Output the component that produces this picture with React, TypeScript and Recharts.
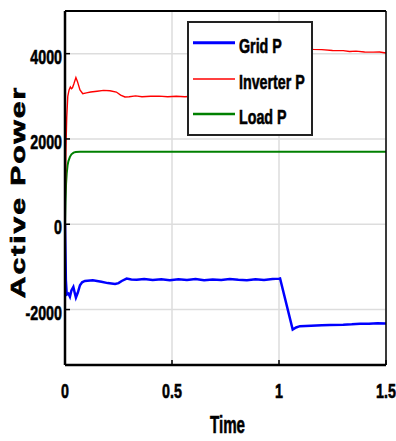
import React from 'react';
import { LineChart, Line, XAxis, YAxis, CartesianGrid, Legend } from 'recharts';

// Simulated active power traces (W) against time (s)
const gridTime = [0, 0.004, 0.008, 0.016, 0.023, 0.03, 0.039, 0.045, 0.051, 0.06, 0.07, 0.08, 0.093, 0.13, 0.17, 0.2, 0.234, 0.25, 0.265, 0.288, 0.31, 0.335, 0.37, 0.41, 0.45, 0.49, 0.53, 0.57, 0.61, 0.65, 0.69, 0.73, 0.77, 0.81, 0.85, 0.89, 0.93, 0.97, 1.0, 1.005, 1.064, 1.08, 1.098, 1.15, 1.2, 1.238, 1.3, 1.34, 1.379, 1.42, 1.46, 1.5];
const gridP = [0, -1300, -1650, -1625, -1700, -1550, -1470, -1600, -1720, -1600, -1430, -1360, -1330, -1312, -1350, -1380, -1400, -1380, -1330, -1273, -1295, -1300, -1285, -1305, -1290, -1310, -1290, -1305, -1285, -1310, -1295, -1305, -1285, -1300, -1310, -1290, -1305, -1285, -1275, -1270, -2470, -2420, -2390, -2380, -2370, -2360, -2355, -2345, -2330, -2335, -2320, -2325];

const inverterTime = [0, 0.004, 0.008, 0.013, 0.019, 0.025, 0.03, 0.035, 0.042, 0.051, 0.058, 0.07, 0.083, 0.1, 0.12, 0.15, 0.18, 0.21, 0.24, 0.26, 0.28, 0.3, 0.33, 0.36, 0.4, 0.44, 0.48, 0.52, 0.56, 0.6, 0.8, 1.0, 1.04, 1.08, 1.16, 1.2, 1.25, 1.3, 1.33, 1.36, 1.4, 1.44, 1.47, 1.5];
const inverterP = [0, 1700, 2500, 3000, 3150, 3220, 3180, 3200, 3300, 3440, 3350, 3150, 3060, 3080, 3100, 3120, 3140, 3130, 3100, 3030, 2985, 2990, 3010, 2990, 3000, 3005, 2990, 3000, 2990, 3000, 3000, 3000, 4200, 4170, 4100, 4095, 4075, 4070, 4050, 4060, 4040, 4035, 4040, 4015];

const loadTime = [0, 0.002, 0.005, 0.008, 0.012, 0.016, 0.023, 0.03, 0.04, 0.05, 0.07, 0.1, 0.5, 1.0, 1.5];
const loadP = [0, 500, 950, 1190, 1380, 1480, 1580, 1640, 1680, 1695, 1700, 1700, 1700, 1700, 1700];

const timeTicks = [0, 0.5, 1, 1.5];
const powerTicks = [-2000, 0, 2000, 4000];
const powerDomain = [-3300, 5000];

const seriesNames = ['Grid P', 'Inverter P', 'Load P'];
const seriesColors = ['#0000ff', '#ff0000', '#008000'];
const seriesWidths = [2.5, 1.4, 2];
const legendWidths = [3, 1.6, 2.4];

const FONT = '"Liberation Sans", Arial, sans-serif';
// heavier strokes on the glyphs to get the chunky bold look
const textStyle = { fontFamily: FONT, fontWeight: 'bold', fill: '#000', stroke: '#000', strokeWidth: 0.6 } as const;

const toPoints = (t: number[], p: number[]) => t.map((time, i) => ({ time, p: p[i] }));

const gridData = toPoints(gridTime, gridP);
const inverterData = toPoints(inverterTime, inverterP);
const loadData = toPoints(loadTime, loadP);

const XTick = (props: any) => {
  const { x, y, payload } = props;
  return (
    <text transform={`translate(${x},${y + 38}) scale(0.68,1)`} textAnchor="middle" fontSize={21} {...textStyle}>
      {payload.value}
    </text>
  );
};

const YTick = (props: any) => {
  const { x, y, payload } = props;
  return (
    <text transform={`translate(${x - 8},${y + 10}) scale(0.68,1)`} textAnchor="end" fontSize={21} {...textStyle}>
      {payload.value}
    </text>
  );
};

const TimeLabel = (props: any) => {
  const { viewBox } = props;
  const cx = viewBox.x + viewBox.width / 2 + 2;
  return (
    <text transform={`translate(${cx},${viewBox.y + 68}) scale(0.63,1)`} textAnchor="middle" fontSize={24} {...textStyle}>
      Time
    </text>
  );
};

const PowerLabel = (props: any) => {
  const { viewBox } = props;
  const cy = viewBox.y + viewBox.height / 2 + 4;
  return (
    <text
      transform={`translate(25,${cy}) rotate(-90) scale(1,0.65)`}
      textAnchor="middle"
      fontSize={30}
      letterSpacing={2}
      {...textStyle}
      strokeWidth={1}
    >
      Active Power
    </text>
  );
};

const LegendBox = (props: any) => {
  const { payload } = props;
  const rows = [21.7, 58, 93];
  return (
    <svg width={126} height={115} style={{ display: 'block' }}>
      <rect x={1} y={1} width={124} height={113} fill="#fff" stroke="#222" strokeWidth={2} />
      {(payload || []).map((entry: any, i: number) => {
        const idx = seriesNames.indexOf(entry.value);
        return (
          <g key={entry.value}>
            <line x1={6} x2={48} y1={rows[i]} y2={rows[i]} stroke={entry.color} strokeWidth={legendWidths[idx]} />
            <text transform={`translate(52,${rows[i] + 10}) scale(0.68,1)`} fontSize={21} {...textStyle}>
              {entry.value}
            </text>
          </g>
        );
      })}
    </svg>
  );
};

export default function App() {
  return (
    <div style={{ position: 'fixed', left: 0, top: 0, width: 396, height: 441, background: '#fff' }}>
      <LineChart width={396} height={441} margin={{ top: 10, right: 5, bottom: 36, left: 10 }}>
        <CartesianGrid stroke="#dddddd" strokeWidth={1.5} />
        <XAxis
          dataKey="time"
          type="number"
          domain={[0, 1.5]}
          ticks={timeTicks}
          height={40}
          tickSize={-5}
          tickMargin={0}
          axisLine={{ stroke: '#000', strokeWidth: 2.5 }}
          tickLine={{ stroke: '#000', strokeWidth: 1.5 }}
          tick={<XTick />}
          allowDataOverflow
          label={<TimeLabel />}
        />
        <XAxis
          xAxisId="top"
          dataKey="time"
          orientation="top"
          type="number"
          domain={[0, 1.5]}
          ticks={timeTicks}
          height={1}
          tickSize={-5}
          axisLine={{ stroke: '#000', strokeWidth: 2 }}
          tickLine={{ stroke: '#000', strokeWidth: 1.5 }}
          tick={false}
          allowDataOverflow
        />
        <YAxis
          type="number"
          domain={powerDomain}
          ticks={powerTicks}
          width={55}
          tickSize={-5}
          tickMargin={0}
          axisLine={{ stroke: '#000', strokeWidth: 2.5 }}
          tickLine={{ stroke: '#000', strokeWidth: 1.5 }}
          tick={<YTick />}
          allowDataOverflow
          label={<PowerLabel />}
        />
        <YAxis
          yAxisId="right"
          orientation="right"
          type="number"
          domain={powerDomain}
          ticks={powerTicks}
          width={5}
          tickSize={-5}
          axisLine={{ stroke: '#000', strokeWidth: 1.5 }}
          tickLine={{ stroke: '#000', strokeWidth: 1.5 }}
          tick={false}
          allowDataOverflow
        />
        <Line xAxisId="top" yAxisId="right" data={loadData} dataKey="p" name={seriesNames[2]} stroke={seriesColors[2]} strokeWidth={seriesWidths[2]} dot={false} isAnimationActive={false} type="linear" />
        <Line data={inverterData} dataKey="p" name={seriesNames[1]} stroke={seriesColors[1]} strokeWidth={seriesWidths[1]} dot={false} isAnimationActive={false} type="linear" />
        <Line data={gridData} dataKey="p" name={seriesNames[0]} stroke={seriesColors[0]} strokeWidth={seriesWidths[0]} dot={false} isAnimationActive={false} type="linear" />
        <Legend
          layout="horizontal"
          verticalAlign="middle"
          align="center"
          itemSorter={(item: any) => seriesNames.indexOf(item.value)}
          content={<LegendBox />}
          wrapperStyle={{ left: 187, top: 21, width: 126, height: 115 }}
        />
      </LineChart>
    </div>
  );
}
